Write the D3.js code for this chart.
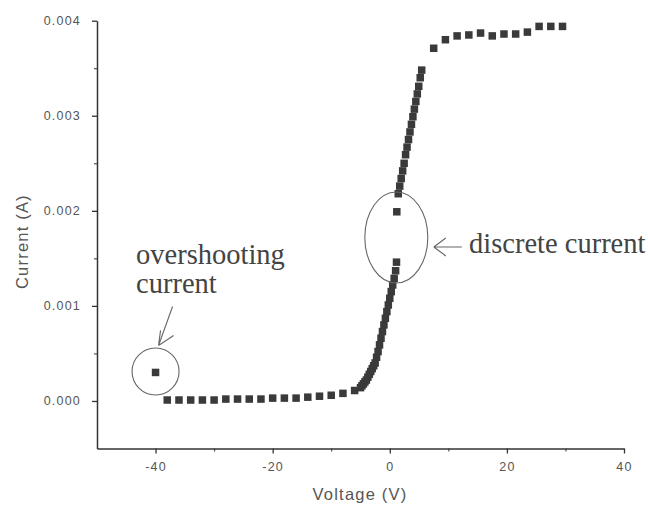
<!DOCTYPE html>
<html>
<head>
<meta charset="utf-8">
<script src="https://cdn.jsdelivr.net/npm/d3@7"></script>
<style>
  html, body { margin: 0; padding: 0; background: #ffffff; }
  svg { display: block; }
  .tick text { font-family: "Liberation Sans", Arial, sans-serif; font-size: 12.5px; fill: #555; letter-spacing: 1.2px; }
  .axis path, .axis line { stroke: #333; }
</style>
</head>
<body>
<svg id="chart" width="648" height="507"></svg>
<script>
// ---- Data ----
const overshootV = [-40];
const overshootI = [0.0003];

const flatV = [-38, -36, -34, -32, -30, -28, -26, -24, -22, -20, -18, -16, -14, -12, -10, -8, -6];
const flatI = [0.00001, 0.00001, 0.00001, 0.00001, 0.00001, 0.00002, 0.00002, 0.00002, 0.00002, 0.00003, 0.00003, 0.00003, 0.00004, 0.00005, 0.00006, 0.00008, 0.00011];

const riseLowV = [-5.0, -4.75, -4.5, -4.25, -4.0, -3.75, -3.5, -3.25, -3.0, -2.75, -2.5, -2.25, -2.0, -1.75, -1.5, -1.25, -1.0, -0.75, -0.5, -0.25, 0, 0.25, 0.5, 0.75, 1.0, 1.15];
const riseLowI = [0.00014, 0.00016, 0.00018, 0.0002, 0.00022, 0.00025, 0.00028, 0.00031, 0.00034, 0.00037, 0.0004, 0.00046, 0.00052, 0.00059, 0.00066, 0.00073, 0.0008, 0.00087, 0.00094, 0.00101, 0.00108, 0.00115, 0.00122, 0.00129, 0.00137, 0.00146];

const discreteV = [1.2];
const discreteI = [0.00199];

const riseHighV = [1.45, 1.7, 1.95, 2.2, 2.45, 2.7, 2.95, 3.2, 3.45, 3.7, 3.95, 4.2, 4.45, 4.7, 4.95, 5.2, 5.45];
const riseHighI = [0.00218, 0.00226, 0.00234, 0.00242, 0.0025, 0.00259, 0.00267, 0.00275, 0.00283, 0.00291, 0.00299, 0.00307, 0.00315, 0.00323, 0.00331, 0.0034, 0.00348];

const satV = [7.5, 9.5, 11.5, 13.5, 15.5, 17.5, 19.5, 21.5, 23.5, 25.5, 27.5, 29.5];
const satI = [0.00371, 0.0038, 0.00384, 0.00385, 0.00387, 0.00384, 0.00386, 0.00386, 0.00388, 0.00394, 0.00394, 0.00394];

const xTicks = [-40, -20, 0, 20, 40];
const xMinorTicks = [-30, -10, 10, 30];
const yTicks = [0, 0.001, 0.002, 0.003, 0.004];
const yMinorTicks = [0.0005, 0.0015, 0.0025, 0.0035];

const xLabel = "Voltage (V)";
const yLabel = "Current (A)";
const noteOvershoot = ["overshooting", "current"];
const noteDiscrete = "discrete current";

// ---- Build ----
const svg = d3.select("#chart");
const x = d3.scaleLinear().domain([-50, 40]).range([97, 624]);
const y = d3.scaleLinear().domain([-0.0005, 0.004]).range([448.5, 20.7]);

const zip = (vs, is) => vs.map((v, i) => ({ v, i: is[i] }));
const points = [].concat(
  zip(overshootV, overshootI),
  zip(flatV, flatI),
  zip(riseLowV, riseLowI),
  zip(discreteV, discreteI),
  zip(riseHighV, riseHighI),
  zip(satV, satI)
);

// axes
const gx = svg.append("g").attr("class", "axis").attr("transform", `translate(0,${y(-0.0005)})`)
  .call(d3.axisBottom(x).tickValues(xTicks).tickSize(5).tickSizeOuter(0).tickPadding(9).tickFormat(d => String(d)));
gx.select(".domain").attr("stroke-width", 1.5);
gx.selectAll(".tick line").attr("stroke-width", 1.3);
svg.append("g").attr("class", "axis").attr("transform", `translate(0,${y(-0.0005)})`)
  .call(d3.axisBottom(x).tickValues(xMinorTicks).tickSize(3).tickFormat(""))
  .select(".domain").remove();

const gy = svg.append("g").attr("class", "axis").attr("transform", `translate(${x(-50)},0)`)
  .call(d3.axisLeft(y).tickValues(yTicks).tickSize(5).tickSizeOuter(0).tickPadding(11).tickFormat(d3.format(".3f")));
gy.select(".domain").attr("stroke-width", 1.5);
gy.selectAll(".tick line").attr("stroke-width", 1.3);
svg.append("g").attr("class", "axis").attr("transform", `translate(${x(-50)},0)`)
  .call(d3.axisLeft(y).tickValues(yMinorTicks).tickSize(3).tickFormat(""))
  .select(".domain").remove();

// axis titles
svg.append("text")
  .attr("x", 360).attr("y", 500)
  .attr("text-anchor", "middle")
  .style("font-family", "'Liberation Sans', Arial, sans-serif")
  .style("font-size", "16.5px").style("letter-spacing", "1.2px").attr("fill", "#555")
  .text(xLabel);
svg.append("text")
  .attr("transform", `translate(28,${(y(-0.0005) + y(0.004)) / 2 + 7}) rotate(-90)`)
  .attr("text-anchor", "middle")
  .style("font-family", "'Liberation Sans', Arial, sans-serif")
  .style("font-size", "16.5px").style("letter-spacing", "1.2px").attr("fill", "#555")
  .text(yLabel);

// markers
const ms = 7.5;
svg.append("g").selectAll("rect").data(points).join("rect")
  .attr("x", d => x(d.v) - ms / 2)
  .attr("y", d => y(d.i) - ms / 2)
  .attr("width", ms).attr("height", ms)
  .attr("fill", "#3a3a3a");

// annotations
const ann = svg.append("g").attr("fill", "none").attr("stroke", "#666").attr("stroke-width", 1.1);
ann.append("circle").attr("cx", x(overshootV[0])).attr("cy", y(overshootI[0]) - 1).attr("r", 23.5);
ann.append("ellipse").attr("cx", x(discreteV[0]) - 0.5).attr("cy", y(0.00172)).attr("rx", 31.5).attr("ry", 45.5);

// overshoot arrow (pointing down-left to circle)
const ox = x(overshootV[0]), oy = y(overshootI[0]);
ann.append("path").attr("d",
  `M${ox + 17},${oy - 66} L${ox + 3},${oy - 27} M${ox + 3},${oy - 27} L${ox + 5},${oy - 42} M${ox + 3},${oy - 27} L${ox + 18},${oy - 37}`);

// discrete arrow "←"
const ax = x(discreteV[0]) + 37, ay = y(0.00162);
ann.append("path").attr("d",
  `M${ax + 28},${ay} L${ax},${ay} M${ax},${ay} L${ax + 12},${ay - 9} M${ax},${ay} L${ax + 12},${ay + 9}`);

const serif = "'Liberation Serif', 'Times New Roman', serif";
svg.append("text").attr("x", 136).attr("y", 264)
  .style("font-family", serif).style("font-size", "28.5px").attr("fill", "#444")
  .text(noteOvershoot[0]);
svg.append("text").attr("x", 136).attr("y", 293)
  .style("font-family", serif).style("font-size", "28.5px").attr("fill", "#444")
  .text(noteOvershoot[1]);
svg.append("text").attr("x", 469).attr("y", 253)
  .style("font-family", serif).style("font-size", "28.5px").attr("fill", "#444")
  .text(noteDiscrete);
</script>
</body>
</html>
